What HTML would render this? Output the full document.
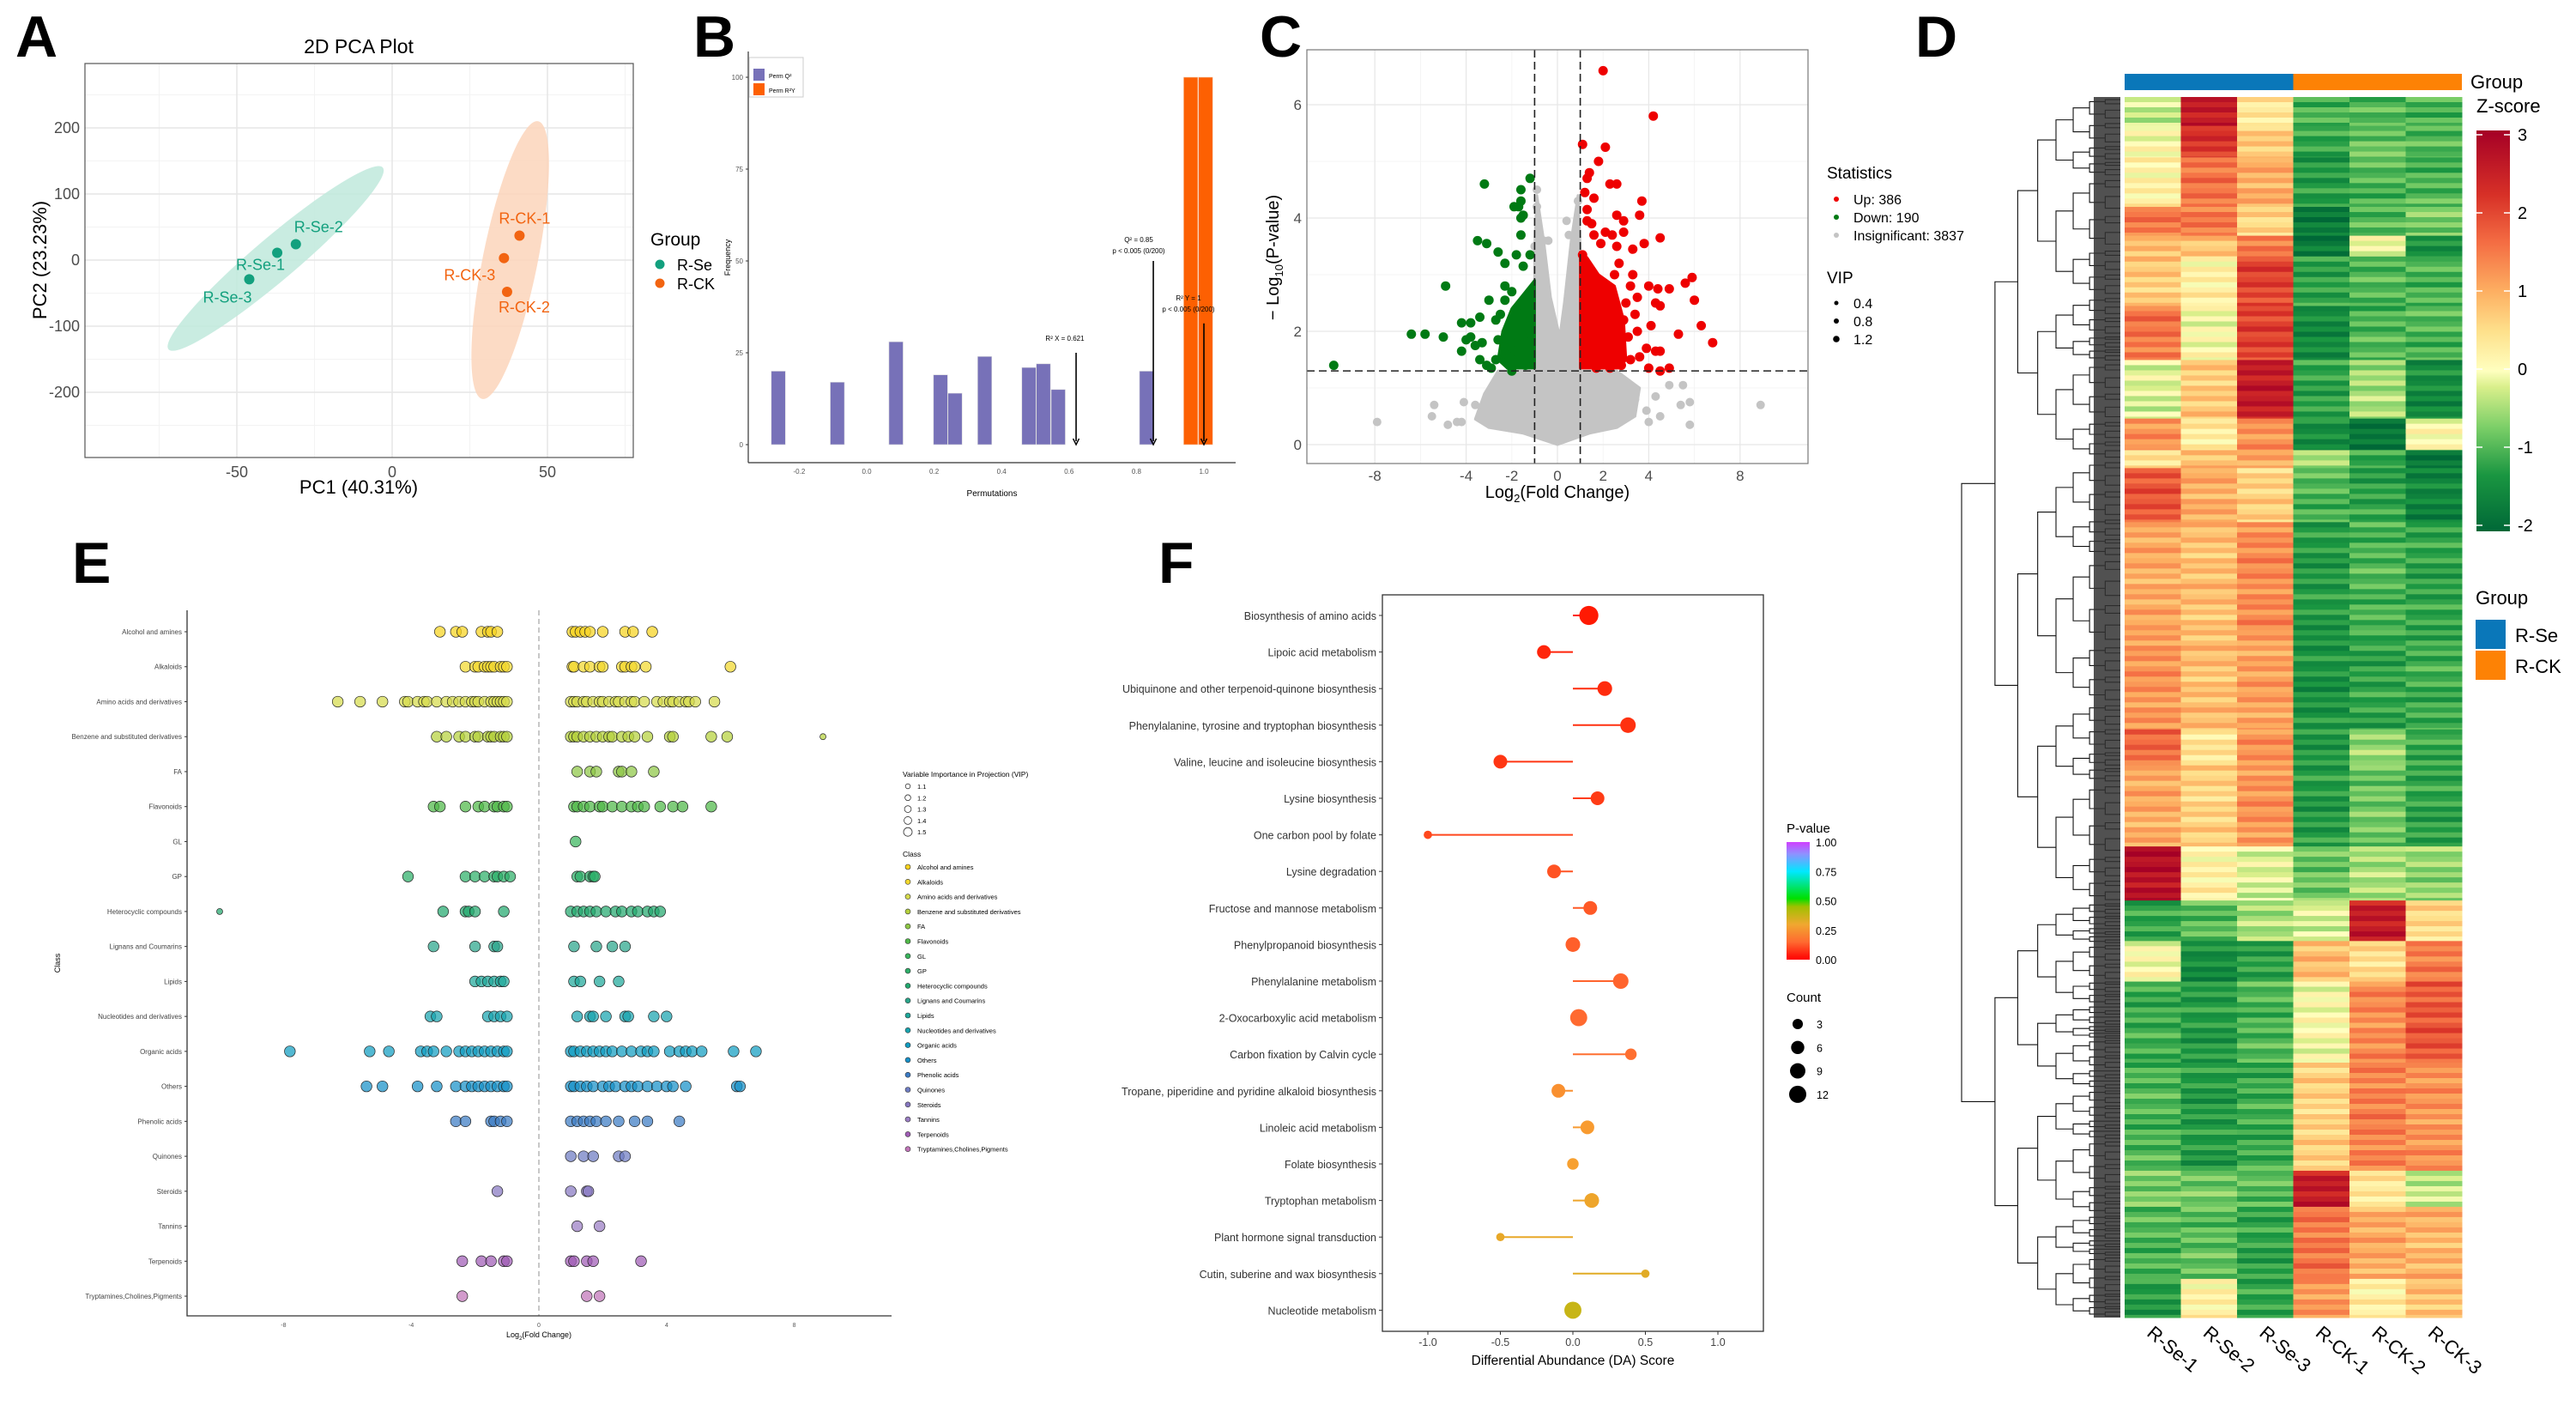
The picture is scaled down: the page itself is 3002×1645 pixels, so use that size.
<!DOCTYPE html>
<html><head><meta charset="utf-8"><style>
html,body{margin:0;padding:0;background:#fff;}
svg{display:block;font-family:"Liberation Sans",Arial,sans-serif;}
.nar{font-family:"Liberation Sans Narrow","Liberation Sans",sans-serif;}
</style></head><body>
<svg id="fig" xmlns="http://www.w3.org/2000/svg" width="3002" height="1645" viewBox="0 0 3002 1645">
<rect width="3002" height="1645" fill="#fff"/>
<defs>
<linearGradient id="zgrad" x1="0" y1="1" x2="0" y2="0">
<stop offset="0" stop-color="#006837"/><stop offset="0.14" stop-color="#1a9641"/><stop offset="0.26" stop-color="#7ccf68"/><stop offset="0.36" stop-color="#d9ef8b"/><stop offset="0.4" stop-color="#ffffbf"/><stop offset="0.5" stop-color="#fee08b"/><stop offset="0.6" stop-color="#fdae61"/><stop offset="0.72" stop-color="#f46d43"/><stop offset="0.84" stop-color="#d73027"/><stop offset="1" stop-color="#a50026"/>
</linearGradient>
<linearGradient id="pgrad" x1="0" y1="1" x2="0" y2="0">
<stop offset="0" stop-color="#ff0000"/><stop offset="0.15" stop-color="#ff6a30"/><stop offset="0.3" stop-color="#f0a830"/><stop offset="0.45" stop-color="#a0c000"/><stop offset="0.52" stop-color="#00e000"/><stop offset="0.75" stop-color="#00e8ff"/><stop offset="0.9" stop-color="#9090ff"/><stop offset="1" stop-color="#d040ff"/>
</linearGradient>
</defs>
<g font-weight="bold" font-size="68" fill="#000">
<text x="18" y="66">A</text>
<text x="808" y="66">B</text>
<text x="1468" y="66">C</text>
<text x="2232" y="66">D</text>
<text x="84" y="679">E</text>
<text x="1350" y="679">F</text>
</g>
<g id="gA"></g>
<g id="gB"></g>
<g id="gC"></g>
<g id="gD"></g>
<g id="gE"></g>
<g id="gF"></g>
</svg>
<script>
const NS="http://www.w3.org/2000/svg";
function add(p,tag,a,txt){const e=document.createElementNS(NS,tag);for(const k in a)e.setAttribute(k,a[k]);if(txt!==undefined)e.textContent=txt;p.appendChild(e);return e;}

/* ================= A: PCA ================= */
const pcaNames=["R-Se-1","R-Se-2","R-Se-3","R-CK-1","R-CK-2","R-CK-3"];
const pcaPC1=[-37,-31,-46,41,37,36];
const pcaPC2=[11,24,-29,37,-48,3];
const pcaGroup=[0,0,0,1,1,1];
const pcaXTicks=[-50,0,50];
const pcaYTicks=[-200,-100,0,100,200];
const ellipseEnds=[[-72,-135,-3,140],[29,-210,47,210]];
const ellipseHalfW=[25,32];
(function(){
const g=document.getElementById('gA');
const xA=v=>457+v*3.62, yA=v=>303-v*0.77;
const cols=["#13a07e","#f26411"], fills=["#bfe9dc","#fcd5bb"];
let t=add(g,'text',{x:418,y:62,'text-anchor':'middle','font-size':23,class:'nar'},'2D PCA Plot');


[-75,-25,25,75].forEach(v=>{const l=add(g,'line',{x1:xA(v),x2:xA(v),y1:74,y2:533,stroke:'#f3f3f3','stroke-width':1});

});
[-250,-150,-50,50,150,250].forEach(v=>{const l=add(g,'line',{x1:99,x2:738,y1:yA(v),y2:yA(v),stroke:'#f3f3f3','stroke-width':1});

});
pcaXTicks.forEach(v=>{const l=add(g,'line',{x1:xA(v),x2:xA(v),y1:74,y2:533,stroke:'#e6e6e6','stroke-width':1.5});


const k=add(g,'text',{x:xA(v),y:556,'text-anchor':'middle','font-size':18,fill:'#4d4d4d',class:'nar'},String(v));

});
pcaYTicks.forEach(v=>{const l=add(g,'line',{x1:99,x2:738,y1:yA(v),y2:yA(v),stroke:'#e6e6e6','stroke-width':1.5});


const k=add(g,'text',{x:93,y:yA(v)+6,'text-anchor':'end','font-size':18,fill:'#4d4d4d',class:'nar'},String(v));

});
ellipseEnds.forEach((e,i)=>{const x1=xA(e[0]),y1=yA(e[1]),x2=xA(e[2]),y2=yA(e[3]);
const cx=(x1+x2)/2,cy=(y1+y2)/2,len=Math.hypot(x2-x1,y2-y1)/2,ang=Math.atan2(y2-y1,x2-x1)*180/Math.PI;
const el=add(g,'ellipse',{cx:cx,cy:cy,rx:len,ry:ellipseHalfW[i],fill:fills[i],'fill-opacity':0.85,transform:`rotate(${ang} ${cx} ${cy})`});

});
const r=add(g,'rect',{x:99,y:74,width:639,height:459,fill:'none',stroke:'#555','stroke-width':1.2});


const offs=[[-48,20],[-2,-14],[-54,27],[-24,-14],[-10,24],[-70,26]];
pcaNames.forEach((n,i)=>{const c=add(g,'circle',{cx:xA(pcaPC1[i]),cy:yA(pcaPC2[i]),r:6,fill:cols[pcaGroup[i]]});


const lb=add(g,'text',{x:xA(pcaPC1[i])+offs[i][0],y:yA(pcaPC2[i])+offs[i][1],'font-size':18,fill:cols[pcaGroup[i]],class:'nar'},n);

});
t=add(g,'text',{x:418,y:575,'text-anchor':'middle','font-size':22,class:'nar'},'PC1 (40.31%)');


t=add(g,'text',{x:0,y:0,'text-anchor':'middle','font-size':22,transform:'translate(54,303) rotate(-90)'},'PC2 (23.23%)');


t=add(g,'text',{x:758,y:286,'font-size':21,class:'nar'},'Group');


["R-Se","R-CK"].forEach((n,i)=>{const c=add(g,'circle',{cx:769,cy:308+i*22,r:5.5,fill:cols[i]});


const k=add(g,'text',{x:789,y:315+i*22,'font-size':18,class:'nar'},n);

});
})();

/* ================= B: permutation ================= */
const permQ2Centers=[-0.262,-0.087,0.087,0.219,0.262,0.350,0.481,0.524,0.568,0.830];
const permQ2Counts=[20,17,28,19,14,24,21,22,15,20];
const permR2Centers=[0.961,1.005];
const permR2Counts=[100,100];
const permXTicks=[-0.2,0.0,0.2,0.4,0.6,0.8,1.0];
const permYTicks=[0,25,50,75,100];
const permArrowX=[0.621,0.85,1.0];
const permArrowTop=[25,50,33];
(function(){
const g=document.getElementById('gB');
const xB=v=>1010+v*393, yB=v=>518-v*4.28, bw=0.042*393;
permQ2Centers.forEach((c,i)=>{const b=add(g,'rect',{x:xB(c)-bw/2,y:yB(permQ2Counts[i]),width:bw,height:yB(0)-yB(permQ2Counts[i]),fill:'#7771b8',stroke:'#ddd','stroke-width':0.6});

});
permR2Centers.forEach((c,i)=>{const b=add(g,'rect',{x:xB(c)-bw/2,y:yB(permR2Counts[i]),width:bw,height:yB(0)-yB(permR2Counts[i]),fill:'#fd6002',stroke:'#f5c9a8','stroke-width':0.6});

});
let l=add(g,'line',{x1:872,x2:872,y1:60,y2:539,stroke:'#333','stroke-width':1.2});


l=add(g,'line',{x1:872,x2:1440,y1:539,y2:539,stroke:'#333','stroke-width':1.2});


permYTicks.forEach(v=>{const k=add(g,'text',{x:866,y:yB(v)+3,'text-anchor':'end','font-size':8,fill:'#555'},String(v));


const tk=add(g,'line',{x1:869,x2:872,y1:yB(v),y2:yB(v),stroke:'#333'});

});
permXTicks.forEach(v=>{const k=add(g,'text',{x:xB(v),y:552,'text-anchor':'middle','font-size':8,fill:'#555'},v.toFixed(1));

});
permArrowX.forEach((v,i)=>{const a=add(g,'line',{x1:xB(v),x2:xB(v),y1:yB(permArrowTop[i]),y2:yB(0)-4,stroke:'#000','stroke-width':1.6});


const h=add(g,'path',{d:`M${xB(v)-3.5} ${yB(0)-7} L${xB(v)} ${yB(0)} L${xB(v)+3.5} ${yB(0)-7}`,fill:'none',stroke:'#000','stroke-width':1.4});

});
const ann=[[1241,397,'R² X = 0.621'],[1327,282,'Q² = 0.85'],[1327,295,'p < 0.005 (0/200)'],[1385,350,'R² Y = 1'],[1385,363,'p < 0.005 (0/200)']];
ann.forEach(a=>{const k=add(g,'text',{x:a[0],y:a[1],'text-anchor':'middle','font-size':8},a[2]);

});
let t=add(g,'text',{x:1156,y:578,'text-anchor':'middle','font-size':10},'Permutations');


t=add(g,'text',{x:0,y:0,'text-anchor':'middle','font-size':9,transform:'translate(851,300) rotate(-90)'},'Frequency');


const lg=add(g,'rect',{x:873,y:67,width:63,height:46,fill:'#fff',stroke:'#ccc'});


[['#7771b8','Perm Q²'],['#fd6002','Perm R²Y']].forEach((e,i)=>{const s=add(g,'rect',{x:878,y:80+i*17,width:13,height:14,fill:e[0]});


const k=add(g,'text',{x:896,y:91+i*17,'font-size':7},e[1]);

});
})();

/* ================= C: volcano ================= */
const upX=[2,4.2,1.1,2.1,1.8,1.4,1.3,2.3,2.6,1.2,1.6,3.7,1.3,2.6,3.6,1.3,1.5,2.9,2.1,2.4,4.5,1.6,2.9,1.9,2.6,3.8,3.3,1.1,5.9,5.6,4.0,4.4,4.9,6.0,3.5,4.3,4.5,6.3,5.3,6.8,4.3,4.5,3.9,4.9,4.5,4.0,3.2,2.9,3.2,3.5,2.6,2.0,2.5,3.0,3.4,3.1,2.2,2.8,3.6,4.1,1.7,2.3,1.2,1.5,2.7,3.3];
const upY=[6.6,5.8,5.3,5.25,5,4.8,4.7,4.6,4.6,4.45,4.35,4.3,4.15,4.05,4.05,3.95,3.9,3.95,3.75,3.7,3.65,3.7,3.75,3.55,3.5,3.55,3.45,3.35,2.95,2.85,2.8,2.75,2.75,2.55,2.6,2.5,2.45,2.1,1.95,1.8,1.65,1.65,1.7,1.35,1.3,1.35,1.5,2.2,2.8,2.0,1.6,2.5,3.0,2.5,2.3,1.9,1.45,1.4,1.55,2.1,1.35,1.35,1.6,1.45,3.2,3.0];
const downX=[-9.8,-3.2,-1.2,-1.6,-1.6,-1.9,-1.7,-1.6,-1.5,-1.6,-3.5,-3.1,-2.6,-1.8,-1.2,-2.3,-1.5,-4.9,-2.3,-2.0,-3.0,-2.3,-1.8,-2.5,-3.4,-4.2,-3.8,-2.7,-6.4,-5.8,-5.0,-3.8,-4.0,-3.3,-3.6,-4.2,-3.4,-3.1,-2.7,-2.3,-2.0,-1.5,-1.2,-1.4,-2.0,-2.9,-2.6,-2.1];
const downY=[1.4,4.6,4.7,4.5,4.3,4.2,4.2,4.0,4.05,3.7,3.6,3.55,3.4,3.35,3.35,3.2,3.15,2.8,2.8,2.7,2.55,2.55,2.4,2.3,2.25,2.15,2.15,2.2,1.95,1.95,1.9,1.9,1.85,1.8,1.75,1.65,1.5,1.4,1.5,1.6,1.8,1.9,2.2,1.4,1.3,1.35,1.85,1.55];
const insigX=[-7.9,-5.4,-5.5,-4.1,-4.4,-4.2,5.4,5.8,8.9,4.9,5.5,4.5,4.3,3.9,4.0,5.8,-0.9,-0.9,0.4,0.5,-0.6,-0.4,0.9,-1.0,-3.6,-3.2,-2.9,3.4,3.0,-4.8];
const insigY=[0.4,0.7,0.5,0.75,0.4,0.4,0.7,0.75,0.7,1.05,1.05,0.5,0.85,0.6,0.4,0.35,4.5,4.2,3.95,3.7,3.6,3.6,4.3,3.5,0.7,0.6,0.5,0.8,0.5,0.35];
const insigCloudX=[0,-1.5,-3.0,-3.6,-3.2,-2.6,-1.0,-1.0,-0.9,-0.6,-0.3,0.1,0.3,0.6,0.9,1.0,1.0,2.6,3.6,3.4,2.6,1.4];
const insigCloudY=[0.0,0.2,0.3,0.45,0.9,1.3,1.3,3.5,4.4,3.6,2.6,1.9,2.5,3.6,4.4,3.5,1.3,1.3,1.0,0.5,0.3,0.2];
const upCloudX=[1.0,1.0,1.3,1.8,2.5,2.9,3.0,2.7];
const upCloudY=[1.35,3.4,3.3,3.0,2.8,2.2,1.5,1.35];
const downCloudX=[-1.0,-1.0,-1.4,-2.0,-2.4,-2.6,-2.2];
const downCloudY=[1.35,2.9,2.7,2.4,2.0,1.5,1.35];
const volXTicks=[-8,-4,-2,0,2,4,8];
const volYTicks=[0,2,4,6];
(function(){
const g=document.getElementById('gC');
const xC=v=>1815+v*26.6, yC=v=>518-v*66;
[-6,-2,2,6].forEach(v=>{const l=add(g,'line',{x1:xC(v),x2:xC(v),y1:58,y2:540,stroke:'#f4f4f4'});

});
[1,3,5].forEach(v=>{const l=add(g,'line',{x1:1523,x2:2107,y1:yC(v),y2:yC(v),stroke:'#f4f4f4'});

});
[-8,-4,0,4,8].forEach(v=>{const l=add(g,'line',{x1:xC(v),x2:xC(v),y1:58,y2:540,stroke:'#e8e8e8','stroke-width':1.3});

});
volYTicks.forEach(v=>{const l=add(g,'line',{x1:1523,x2:2107,y1:yC(v),y2:yC(v),stroke:'#e8e8e8','stroke-width':1.3});


const k=add(g,'text',{x:1517,y:yC(v)+6,'text-anchor':'end','font-size':17,fill:'#4d4d4d',class:'nar'},String(v));

});
volXTicks.forEach(v=>{const k=add(g,'text',{x:xC(v),y:560,'text-anchor':'middle','font-size':17,fill:'#4d4d4d',class:'nar'},String(v));

});
function poly(xs,ys,col,name){const p=add(g,'polygon',{points:xs.map((x,i)=>xC(x)+','+yC(ys[i])).join(' '),fill:col,stroke:col,'stroke-width':3,'stroke-linejoin':'round'});

}
poly(insigCloudX,insigCloudY,'#c4c4c4','volcano-insignificant-density');
insigX.forEach((x,i)=>{const c=add(g,'circle',{cx:xC(x),cy:yC(insigY[i]),r:5,fill:'#c4c4c4'});

});
poly(upCloudX,upCloudY,'#ee0000','volcano-up-density');
poly(downCloudX,downCloudY,'#007a14','volcano-down-density');
upX.forEach((x,i)=>{const c=add(g,'circle',{cx:xC(x),cy:yC(upY[i]),r:5.5,fill:'#ee0000'});

});
downX.forEach((x,i)=>{const c=add(g,'circle',{cx:xC(x),cy:yC(downY[i]),r:5.5,fill:'#007a14'});

});
[-1,1].forEach(v=>{const l=add(g,'line',{x1:xC(v),x2:xC(v),y1:58,y2:540,stroke:'#222','stroke-width':1.6,'stroke-dasharray':'9 5'});

});
let l=add(g,'line',{x1:1523,x2:2107,y1:yC(1.301),y2:yC(1.301),stroke:'#222','stroke-width':1.6,'stroke-dasharray':'9 5'});


const r=add(g,'rect',{x:1523,y:58,width:584,height:482,fill:'none',stroke:'#777','stroke-width':1.2});


let t=add(g,'text',{x:1815,y:580,'text-anchor':'middle','font-size':20,class:'nar'});
t.innerHTML='Log<tspan font-size="13" dy="5">2</tspan><tspan dy="-5">(Fold Change)</tspan>';


t=add(g,'text',{x:0,y:0,'text-anchor':'middle','font-size':20,transform:'translate(1490,300) rotate(-90)'});
t.innerHTML='− Log<tspan font-size="13" dy="5">10</tspan><tspan dy="-5">(P-value)</tspan>';


t=add(g,'text',{x:2129,y:208,'font-size':19,class:'nar'},'Statistics');


[['#ee0000','Up: 386'],['#007a14','Down: 190'],['#c4c4c4','Insignificant: 3837']].forEach((e,i)=>{const c=add(g,'circle',{cx:2140,cy:232+i*21,r:3,fill:e[0]});


const k=add(g,'text',{x:2160,y:238+i*21,'font-size':16,class:'nar'},e[1]);

});
t=add(g,'text',{x:2129,y:330,'font-size':19,class:'nar'},'VIP');


[['0.4',2.5],['0.8',3],['1.2',3.8]].forEach((e,i)=>{const c=add(g,'circle',{cx:2140,cy:353+i*21,r:e[1],fill:'#000'});


const k=add(g,'text',{x:2160,y:359+i*21,'font-size':16,class:'nar'},e[0]);

});
})();

/* ================= D: heatmap ================= */
const hmSamples=["R-Se-1","R-Se-2","R-Se-3","R-CK-1","R-CK-2","R-CK-3"];
const hmBandStart=[108,140,175,230,262,285,340,400,465,500,520,580,700,810,850,940,1000,1045,1090,1180,1300,1340,1420];
const hmBandValues=[[-0.3,2.5,0.3,-1,-1,-1],[0,2.2,0.7,-1.2,-0.8,-1],[0.2,1.5,1,-1.3,-1,-1],[1.5,1.5,0.5,-1.7,-1,-0.7],[0.8,0.7,1.5,-1.8,0,-1.4],[0.7,0.2,2,-1.2,-1,-1],[1.5,0,2,-1.5,-1,-1],[-0.2,0.7,2.5,-1.2,-0.5,-1.5],[1.2,0.3,1.2,-1.5,-1.8,0],[0.5,0.8,1,-0.5,-1.2,-1.8],[1.8,1,0.6,-1,-1.2,-1.6],[1,0.8,1.3,-1.3,-1,-1.2],[1.2,0.8,1.1,-1.4,-1.2,-1.1],[1.6,0.4,1.2,-1.3,-0.6,-1.1],[1,0.6,1.2,-1.3,-0.8,-1.2],[2.7,0.2,-0.2,-0.8,-0.5,-0.6],[-1.2,-0.9,-0.5,-0.2,2.5,0.5],[0,-1.5,-1.2,0.8,0.5,1.4],[-1.1,-1.3,-1,0,1.3,1.8],[-1,-1.3,-1.1,0.6,1.4,1.2],[-0.7,-0.8,-0.9,2.5,0.3,-0.3],[-1,-0.9,-1.2,1.5,1,0.9],[-1.3,0.2,-1.2,1.2,0.2,0.8]];
const hmStripeOffsets=[0,0.35,-0.25,0.15,-0.4,0.25,-0.1,0.3,-0.3,0.05,0.45,-0.15];
const zTicks=[3,2,1,0,-1,-2];
(function(){
const g=document.getElementById('gD');
const L=2476,R=2869,T=113,B=1535,cw=(R-L)/6;
const zy=v=>T+((v-108)/(1463-108))*(B-T);
const stops=[[-2,[0,104,55]],[-1.3,[26,150,65]],[-0.7,[124,207,104]],[-0.2,[217,239,139]],[0,[255,255,191]],[0.5,[254,224,139]],[1,[253,174,97]],[1.6,[244,109,67]],[2.2,[215,48,39]],[3,[165,0,38]]];
function zc(z){z=Math.max(-2,Math.min(3,z));for(let i=1;i<stops.length;i++){if(z<=stops[i][0]){const a=stops[i-1],b=stops[i],f=(z-a[0])/(b[0]-a[0]);return 'rgb('+a[1].map((c,j)=>Math.round(c+(b[1][j]-c)*f)).join(',')+')';}}return 'rgb(165,0,38)';}
let sub=0;
hmBandStart.forEach((s,bi)=>{const e=bi+1<hmBandStart.length?hmBandStart[bi+1]:1463;const y0=zy(s),y1=zy(e);
for(let y=y0;y<y1;y+=6){const h=Math.min(6,y1-y);
hmBandValues[bi].forEach((v,ci)=>{const z=v+hmStripeOffsets[(sub+ci*5)%hmStripeOffsets.length]*0.8;
const c=add(g,'rect',{x:L+ci*cw,y:y,width:cw+0.5,height:h+0.5,fill:zc(z)});

});sub++;}});
[['#0a77b9',0],['#fd8205',3]].forEach(e=>{const r=add(g,'rect',{x:L+e[1]*cw,y:86,width:cw*3,height:19,fill:e[0]});

});
const splitFr=[0.66,0.45,0.55,0.4,0.6,0.5,0.35,0.62];
function dend(a,b,depth){const mid=(a+b)/2;if(depth>=8||b-a<5){return mid;}
const sp=a+(b-a)*splitFr[depth%splitFr.length];const xc=2286+(2471-2286)*Math.pow(depth/8,0.75);
const nx=2286+(2471-2286)*Math.pow((depth+1)/8,0.75);
const m1=dend(a,sp,depth+1),m2=dend(sp,b,depth+1);
const p=add(g,'path',{d:`M${depth+1>=8||sp-a<5?2471:nx} ${m1} H${xc} V${m2} H${depth+1>=8||b-sp<5?2471:nx}`,fill:'none',stroke:'#111','stroke-width':1.1});


return (m1+m2)/2;}
dend(T,B,0);
const dk=add(g,'rect',{x:2440,y:T,width:31,height:B-T,fill:'#333','fill-opacity':0.85});


hmSamples.forEach((n,i)=>{const cx=L+cw*(i+0.5)-8;const t=add(g,'text',{x:0,y:0,'font-size':22,transform:`translate(${cx},1555) rotate(40)`},n);

});
let t=add(g,'text',{x:2879,y:103,'font-size':22},'Group');


t=add(g,'text',{x:2886,y:131,'font-size':22},'Z-score');


const cb=add(g,'rect',{x:2886,y:152,width:39,height:467,fill:'url(#zgrad)'});


const zY=v=>430-v*91;
zTicks.forEach(v=>{const l=add(g,'path',{d:`M2886 ${zY(v)} h7 M2918 ${zY(v)} h7`,stroke:'#fff','stroke-width':1.5});


const k=add(g,'text',{x:2934,y:zY(v)+7,'font-size':20},String(v));

});
t=add(g,'text',{x:2885,y:704,'font-size':22},'Group');


[['#0a77b9','R-Se'],['#fd8205','R-CK']].forEach((e,i)=>{const r=add(g,'rect',{x:2885,y:722+i*36,width:35,height:34,fill:e[0]});


const k=add(g,'text',{x:2931,y:748+i*36,'font-size':22},e[1]);

});
})();

/* ================= E: class dot plot ================= */
const eClasses=["Alcohol and amines","Alkaloids","Amino acids and derivatives","Benzene and substituted derivatives","FA","Flavonoids","GL","GP","Heterocyclic compounds","Lignans and Coumarins","Lipids","Nucleotides and derivatives","Organic acids","Others","Phenolic acids","Quinones","Steroids","Tannins","Terpenoids","Tryptamines,Cholines,Pigments"];
const eColors=["#f7d21e","#f2d82e","#d6db4c","#b5d13c","#8dc645","#4fb848","#39b55c","#2dae68","#22a86e","#2aa58a","#1ea89a","#18a3ae","#119cc0","#1690c8","#3b7bc4","#6e7cc2","#8677c0","#9a7dc3","#a05cb5","#c074b8"];
const eLogFC=[
[-3.1,-2.6,-2.4,-1.8,-1.6,-1.5,-1.3,1.05,1.15,1.3,1.45,1.6,2.0,2.7,2.95,3.55],
[-2.3,-2.0,-1.9,-1.7,-1.6,-1.5,-1.4,-1.2,-1.1,-1.0,1.05,1.1,1.4,1.6,1.9,2.0,2.6,2.7,2.9,3.0,3.35,6.0],
[-6.3,-5.6,-4.9,-4.2,-4.1,-3.8,-3.6,-3.5,-3.2,-2.9,-2.7,-2.5,-2.3,-2.1,-2.0,-1.9,-1.7,-1.5,-1.4,-1.3,-1.2,-1.1,-1.0,1.0,1.1,1.2,1.4,1.5,1.7,1.9,2.0,2.2,2.4,2.5,2.7,2.9,3.0,3.3,3.7,3.9,4.1,4.2,4.4,4.6,4.7,4.9,5.5],
[-3.2,-2.9,-2.5,-2.3,-2.0,-1.9,-1.6,-1.5,-1.4,-1.2,-1.1,-1.0,1.0,1.1,1.2,1.4,1.6,1.8,2.0,2.2,2.3,2.6,2.8,3.0,3.4,4.1,4.2,5.4,5.9,8.9],
[1.2,1.6,1.8,2.5,2.6,2.9,3.6],
[-3.3,-3.1,-2.3,-1.9,-1.7,-1.4,-1.3,-1.1,-1.0,1.1,1.2,1.4,1.6,1.9,2.0,2.3,2.6,2.9,3.1,3.3,3.8,4.2,4.5,5.4],
[1.15],
[-4.1,-2.3,-2.0,-1.7,-1.4,-1.3,-1.1,-0.9,1.2,1.3,1.6,1.7,1.75],
[-10.0,-3.0,-2.3,-2.2,-2.0,-1.1,1.0,1.2,1.4,1.6,1.8,2.1,2.4,2.6,2.9,3.1,3.4,3.6,3.8],
[-3.3,-2.0,-1.4,-1.3,1.1,1.8,2.3,2.7],
[-2.0,-1.8,-1.6,-1.4,-1.2,-1.1,1.1,1.3,1.9,2.5],
[-3.4,-3.2,-1.6,-1.4,-1.2,-1.0,1.2,1.6,1.7,2.1,2.7,2.8,3.6,4.0],
[-7.8,-5.3,-4.7,-3.7,-3.5,-3.3,-2.9,-2.5,-2.3,-2.1,-1.9,-1.7,-1.5,-1.3,-1.1,-1.0,1.0,1.1,1.3,1.5,1.7,1.9,2.1,2.3,2.6,2.9,3.2,3.4,3.6,4.1,4.4,4.6,4.8,5.1,6.1,6.8],
[-5.4,-4.9,-3.8,-3.2,-2.6,-2.3,-2.1,-1.9,-1.7,-1.5,-1.3,-1.1,-1.0,1.0,1.1,1.3,1.5,1.7,2.0,2.2,2.4,2.7,2.9,3.1,3.4,3.7,4.0,4.2,4.6,6.2,6.3],
[-2.6,-2.3,-1.5,-1.4,-1.2,-1.0,1.0,1.2,1.4,1.6,1.8,2.1,2.5,3.0,3.4,4.4],
[1.0,1.4,1.7,2.5,2.7],
[-1.3,1.0,1.5,1.55],
[1.2,1.9],
[-2.4,-1.8,-1.5,-1.1,-1.0,1.0,1.1,1.5,1.7,3.2],
[-2.4,1.5,1.9]];
const eXTicks=[-8,-4,0,4,8];
const eVipLevels=[1.1,1.2,1.3,1.4,1.5];
(function(){
const g=document.getElementById('gE');
const xE=v=>628+v*37.2, yE=i=>736+i*40.74;
let l=add(g,'line',{x1:628,x2:628,y1:711,y2:1533,stroke:'#aaa','stroke-width':1.3,'stroke-dasharray':'6 4'});


eClasses.forEach((c,i)=>{const k=add(g,'text',{x:212,y:yE(i)+3,'text-anchor':'end','font-size':8,fill:'#444'},c);


const tk=add(g,'line',{x1:215,x2:218,y1:yE(i),y2:yE(i),stroke:'#333'});


eLogFC[i].forEach(v=>{const d=add(g,'circle',{cx:xE(v),cy:yE(i),r:Math.abs(v)>8.5?3.5:6.3,fill:eColors[i],'fill-opacity':0.72,stroke:'#222','stroke-width':0.7});

});});
l=add(g,'path',{d:'M218 711 V1533 H1039',fill:'none',stroke:'#333','stroke-width':1.3});


eXTicks.forEach(v=>{const k=add(g,'text',{x:xE(v),y:1546,'text-anchor':'middle','font-size':7,fill:'#555'},String(v));

});
let t=add(g,'text',{x:628,y:1558,'text-anchor':'middle','font-size':9});
t.innerHTML='Log<tspan font-size="6" dy="3">2</tspan><tspan dy="-3">(Fold Change)</tspan>';


t=add(g,'text',{x:0,y:0,'text-anchor':'middle','font-size':9,transform:'translate(70,1122) rotate(-90)'},'Class');


t=add(g,'text',{x:1052,y:905,'font-size':8.5},'Variable Importance in Projection (VIP)');


eVipLevels.forEach((v,i)=>{const c=add(g,'circle',{cx:1058,cy:916+i*13.3,r:2.8+i*0.55,fill:'none',stroke:'#333','stroke-width':0.8});


const k=add(g,'text',{x:1069,y:919+i*13.3,'font-size':7.5},v.toFixed(1));

});
t=add(g,'text',{x:1052,y:998,'font-size':8.5},'Class');


eClasses.forEach((c,i)=>{const d=add(g,'circle',{cx:1058,cy:1010+i*17.3,r:3,fill:eColors[i],stroke:'#333','stroke-width':0.6});


const k=add(g,'text',{x:1069,y:1013+i*17.3,'font-size':7.5},c);

});
})();

/* ================= F: DA score ================= */
const fPathways=["Biosynthesis of amino acids","Lipoic acid metabolism","Ubiquinone and other terpenoid-quinone biosynthesis","Phenylalanine, tyrosine and tryptophan biosynthesis","Valine, leucine and isoleucine biosynthesis","Lysine biosynthesis","One carbon pool by folate","Lysine degradation","Fructose and mannose metabolism","Phenylpropanoid biosynthesis","Phenylalanine metabolism","2-Oxocarboxylic acid metabolism","Carbon fixation by Calvin cycle","Tropane, piperidine and pyridine alkaloid biosynthesis","Linoleic acid metabolism","Folate biosynthesis","Tryptophan metabolism","Plant hormone signal transduction","Cutin, suberine and wax biosynthesis","Nucleotide metabolism"];
const fScores=[0.11,-0.2,0.22,0.38,-0.5,0.17,-1.0,-0.13,0.12,0.0,0.33,0.04,0.4,-0.1,0.1,0.0,0.13,-0.5,0.5,0.0];
const fCounts=[12,5,6,7,5,5,1,5,5,6,7,9,3,5,5,3,6,1,1,9];
const fPvalues=[0.01,0.03,0.04,0.05,0.06,0.07,0.09,0.11,0.12,0.13,0.14,0.15,0.16,0.22,0.24,0.25,0.28,0.30,0.32,0.38];
const fXTicks=[-1.0,-0.5,0.0,0.5,1.0];
const fPTicks=[1.0,0.75,0.5,0.25,0.0];
const fCountLevels=[3,6,9,12];
(function(){
const g=document.getElementById('gF');
const xF=v=>1833+v*169, yF=i=>717+i*42.6, rF=c=>2.3+2.55*Math.sqrt(c);
const stops=[[0,[255,20,0]],[0.15,[255,106,48]],[0.25,[247,160,48]],[0.35,[216,176,32]],[0.45,[160,192,0]],[0.5,[0,224,0]],[0.75,[0,232,255]],[0.9,[144,144,255]],[1,[208,64,255]]];
function pc(p){for(let i=1;i<stops.length;i++){if(p<=stops[i][0]){const a=stops[i-1],b=stops[i],f=(p-a[0])/(b[0]-a[0]);return 'rgb('+a[1].map((c,j)=>Math.round(c+(b[1][j]-c)*f)).join(',')+')';}}return 'rgb(208,64,255)';}
const r=add(g,'rect',{x:1611,y:693,width:444,height:858,fill:'none',stroke:'#333','stroke-width':1.3});


fPathways.forEach((n,i)=>{const k=add(g,'text',{x:1604,y:yF(i)+5,'text-anchor':'end','font-size':12.5,fill:'#333'},n);


const tk=add(g,'line',{x1:1607,x2:1611,y1:yF(i),y2:yF(i),stroke:'#333'});


const col=pc(fPvalues[i]);
const s=add(g,'line',{x1:xF(0),x2:xF(fScores[i]),y1:yF(i),y2:yF(i),stroke:col,'stroke-width':2});


const c=add(g,'circle',{cx:xF(fScores[i]),cy:yF(i),r:rF(fCounts[i]),fill:col});

});
fXTicks.forEach(v=>{const k=add(g,'text',{x:xF(v),y:1568,'text-anchor':'middle','font-size':12.5,fill:'#444'},v.toFixed(1));


const tk=add(g,'line',{x1:xF(v),x2:xF(v),y1:1551,y2:1555,stroke:'#333'});

});
let t=add(g,'text',{x:1833,y:1590,'text-anchor':'middle','font-size':15.5},'Differential Abundance (DA) Score');


t=add(g,'text',{x:2082,y:970,'font-size':15},'P-value');


const cb=add(g,'rect',{x:2082,y:981,width:27,height:137,fill:'url(#pgrad)'});


fPTicks.forEach(v=>{const y=1118-v*137;const k=add(g,'text',{x:2116,y:y+5,'font-size':12.5},v.toFixed(2));

});
t=add(g,'text',{x:2082,y:1167,'font-size':15},'Count');


fCountLevels.forEach((c,i)=>{const y=1193+i*27.3;const d=add(g,'circle',{cx:2095,cy:y,r:rF(c)*0.9,fill:'#000'});


const k=add(g,'text',{x:2117,y:y+5,'font-size':12.5},String(c));

});
})();
</script>
</body></html>
